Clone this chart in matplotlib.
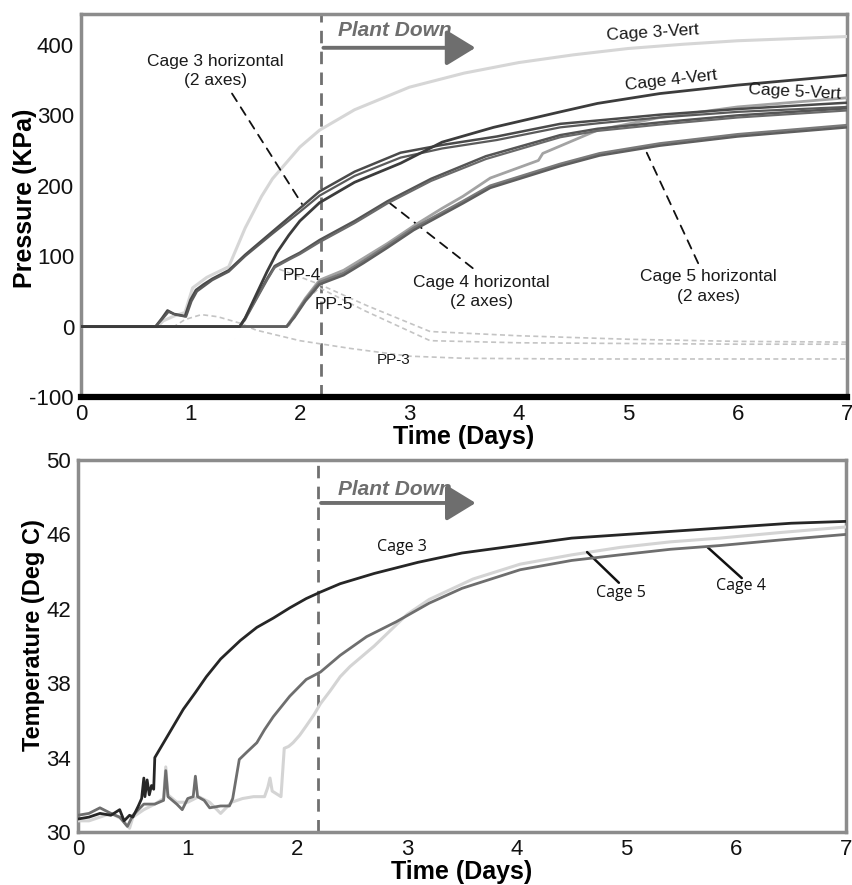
import matplotlib
matplotlib.use("Agg")
import matplotlib.pyplot as plt
from matplotlib.patches import FancyArrowPatch

plt.rcParams['font.family'] = ['Liberation Sans', 'DejaVu Sans']
plt.rcParams['axes.unicode_minus'] = False

# ---------------- Pressure data (days, kPa) ----------------
c3v_t = [0, 0.7, 0.75, 0.85, 0.95, 1.02, 1.15, 1.35, 1.5, 1.65, 1.75, 2.0, 2.18, 2.5, 3.0, 3.5, 4.0, 4.5, 5.0, 5.5, 6.0, 6.5, 7.0]
c3v_p = [0, 0, 8, 15, 20, 55, 70, 85, 140, 185, 210, 255, 279, 308, 340, 360, 375, 386, 395, 401, 406, 409, 412]

c3ha_t = [0, 0.68, 0.74, 0.79, 0.85, 0.95, 1.0, 1.05, 1.12, 1.2, 1.35, 1.5, 1.75, 2.0, 2.18, 2.5, 2.92, 3.3, 3.8, 4.38, 4.74, 5.29, 6.0, 7.0]
c3ha_p = [0, 0, 12, 23, 18, 15, 38, 52, 60, 68, 80, 102, 135, 168, 192, 220, 247, 258, 270, 288, 293, 301, 309, 318]
c3hb_t = [0, 0.68, 0.74, 0.8, 0.86, 0.96, 1.01, 1.06, 1.13, 1.2, 1.35, 1.5, 1.75, 2.0, 2.18, 2.5, 2.92, 3.3, 3.8, 4.38, 4.74, 5.29, 6.0, 7.0]
c3hb_p = [0, 0, 10, 21, 17, 14, 36, 50, 58, 66, 78, 100, 132, 163, 186, 214, 240, 253, 265, 283, 289, 297, 305, 312]

c4v_t = [0, 1.45, 1.5, 1.6, 1.7, 1.79, 1.9, 2.0, 2.18, 2.5, 2.92, 3.3, 3.77, 4.38, 4.72, 5.29, 6.0, 6.5, 7.0]
c4v_p = [0, 0, 12, 45, 78, 105, 130, 150, 176, 205, 232, 262, 283, 305, 317, 331, 343, 350, 357]

c4h_t = [0, 1.45, 1.5, 1.6, 1.7, 1.77, 1.9, 2.0, 2.18, 2.5, 2.8, 3.2, 3.7, 4.38, 4.72, 5.29, 6.0, 7.0]
c4ha_p = [0, 0, 12, 40, 68, 86, 97, 105, 123, 150, 178, 210, 242, 272, 281, 290, 300, 310]
c4hb_p = [0, 0, 10, 38, 66, 84, 95, 103, 120, 147, 175, 207, 238, 269, 278, 287, 297, 307]

c5h_t = [0, 1.88, 1.95, 2.05, 2.18, 2.4, 2.58, 2.8, 3.04, 3.49, 3.74, 4.38, 4.74, 5.29, 6.0, 7.0]
c5ha_p = [0, 0, 15, 38, 63, 76, 93, 115, 140, 178, 200, 231, 246, 260, 273, 286]
c5hb_p = [0, 0, 13, 36, 60, 73, 90, 112, 137, 175, 197, 228, 243, 257, 270, 283]

c5v_t = [0, 1.88, 1.95, 2.05, 2.18, 2.4, 2.58, 2.8, 3.04, 3.3, 3.49, 3.74, 4.18, 4.22, 4.72, 5.29, 6.0, 7.0]
c5v_p = [0, 0, 16, 40, 66, 80, 97, 118, 143, 168, 185, 211, 236, 246, 279, 297, 312, 325]

pp3_t = [0, 0.85, 0.95, 1.1, 1.25, 1.45, 1.6, 2.0, 2.46, 3.0, 3.5, 4.5, 5.5, 7.0]
pp3_p = [0, 0, 10, 17, 14, 5, -5, -20, -31, -42, -45, -46, -46, -46]
pp4_t = [0, 1.47, 1.6, 1.77, 2.18, 2.61, 3.19, 4.0, 5.0, 6.0, 7.0]
pp4_p = [0, 0, 40, 84, 60, 30, -7, -13, -18, -21, -22]
pp5_t = [0, 1.9, 2.0, 2.18, 2.6, 3.19, 4.0, 5.0, 6.0, 7.0]
pp5_p = [0, 0, 30, 55, 22, -20, -23, -24, -25, -25]

# ---------------- Temperature data (days, deg C) ----------------
t3_t = [0, 0.1, 0.2, 0.3, 0.38, 0.42, 0.47, 0.5, 0.55, 0.58, 0.6, 0.61, 0.63, 0.65, 0.67, 0.69,
        0.7, 0.8, 0.87, 0.96, 1.07, 1.17, 1.3, 1.48, 1.63, 1.78, 1.93, 2.08, 2.21, 2.39, 2.7, 3.1, 3.5, 4.0, 4.5, 5.0, 5.5, 6.0, 6.5, 7.0]
t3_v = [30.7, 30.8, 31.0, 30.9, 31.2, 30.6, 30.9, 30.8, 31.4, 31.8, 32.9, 31.9, 32.8, 32.0, 32.5, 32.3,
        34.0, 35.0, 35.7, 36.6, 37.5, 38.35, 39.3, 40.3, 41.0, 41.5, 42.05, 42.55, 42.9, 43.35, 43.9, 44.5, 45.0, 45.4, 45.8, 46.0, 46.2, 46.4, 46.6, 46.7]

t4_t = [0, 0.1, 0.2, 0.3, 0.38, 0.45, 0.5, 0.6, 0.7, 0.78, 0.8, 0.82, 0.9, 0.95, 1.0, 1.05, 1.07, 1.09, 1.15, 1.2, 1.3, 1.38,
        1.41, 1.47, 1.54, 1.63, 1.7, 1.78, 1.93, 2.08, 2.21, 2.39, 2.63, 2.9, 3.2, 3.5, 4.03, 4.5, 4.94, 5.4, 5.85, 6.4, 7.0]
t4_v = [30.9, 31.0, 31.3, 31.0, 30.8, 30.3, 30.9, 31.5, 31.5, 31.7, 33.3, 31.9, 31.5, 31.2, 31.8, 31.9, 33.0, 31.9, 31.7, 31.3, 31.4, 31.4,
        31.8, 33.9, 34.3, 34.8, 35.5, 36.2, 37.3, 38.2, 38.6, 39.5, 40.5, 41.3, 42.3, 43.1, 44.1, 44.6, 44.9, 45.2, 45.4, 45.7, 46.0]

t5_t = [0, 0.1, 0.2, 0.3, 0.4, 0.47, 0.5, 0.6, 0.7, 0.78, 0.8, 0.82, 0.9, 1.0, 1.1, 1.2, 1.3, 1.4, 1.5, 1.6, 1.7, 1.73, 1.75, 1.77, 1.85,
        1.88, 1.92, 1.96, 2.02, 2.08, 2.15, 2.21, 2.3, 2.39, 2.48, 2.7, 3.0, 3.2, 3.6, 4.03, 4.5, 4.94, 5.4, 5.85, 6.4, 7.0]
t5_v = [30.6, 30.6, 30.8, 31.0, 30.7, 30.2, 30.8, 31.2, 31.5, 31.8, 33.5, 32.0, 31.6, 31.6, 31.9, 31.6, 31.0, 31.6, 31.8, 31.9, 31.9, 32.4, 32.9, 32.2, 31.9,
        34.5, 34.6, 34.8, 35.2, 35.7, 36.3, 36.9, 37.6, 38.35, 38.9, 40.0, 41.7, 42.5, 43.6, 44.4, 44.9, 45.3, 45.6, 45.8, 46.1, 46.4]

x_ticks = [0, 1, 2, 3, 4, 5, 6, 7]
p_ticks = [-100, 0, 100, 200, 300, 400]
t_ticks = [30, 34, 38, 42, 46, 50]
plant_down_day = 2.19

W, H = 852, 885
fig = plt.figure(figsize=(W / 100, H / 100), dpi=100)

def rect(l, t, r, b):
    return [l / W, 1 - b / H, (r - l) / W, (b - t) / H]

ax1 = fig.add_axes(rect(81, 14, 847, 397))
ax2 = fig.add_axes(rect(78, 460, 846, 832))

frame_col = '#8c8c8c'
for ax in (ax1, ax2):
    for s in ax.spines.values():
        s.set_color(frame_col)
        s.set_linewidth(2.5)
    ax.tick_params(length=0, labelsize=16, pad=5, colors='#111111')
    ax.set_xlim(0, 7)
    ax.set_xticks(x_ticks)
    ax.axvline(plant_down_day, color='#707070', lw=2, ls=(0, (4.5, 3)), zorder=1)

ax1.spines['bottom'].set_color('black')
ax1.spines['bottom'].set_linewidth(4.5)

# ---------------- Top panel ----------------
ax1.set_ylim(-100, 444)
ax1.set_yticks(p_ticks)

dash = (0, (3, 2))
ax1.plot(pp3_t, pp3_p, color='#c4c4c4', lw=1.2, ls=dash, zorder=2)
ax1.plot(pp4_t, pp4_p, color='#c4c4c4', lw=1.2, ls=dash, zorder=2)
ax1.plot(pp5_t, pp5_p, color='#c4c4c4', lw=1.2, ls=dash, zorder=2)

ax1.plot(c3v_t, c3v_p, color='#d6d6d6', lw=2.2, zorder=3)
ax1.plot(c5v_t, c5v_p, color='#a3a3a3', lw=2.0, zorder=4)
ax1.plot(c5h_t, c5ha_p, color='#7a7a7a', lw=2.0, zorder=4)
ax1.plot(c5h_t, c5hb_p, color='#5e5e5e', lw=1.8, zorder=4)
ax1.plot(c4h_t, c4ha_p, color='#555555', lw=1.8, zorder=5)
ax1.plot(c4h_t, c4hb_p, color='#6a6a6a', lw=1.6, zorder=5)
ax1.plot(c3ha_t, c3ha_p, color='#4a4a4a', lw=1.8, zorder=5)
ax1.plot(c3hb_t, c3hb_p, color='#5a5a5a', lw=1.6, zorder=5)
ax1.plot(c4v_t, c4v_p, color='#3c3c3c', lw=2.0, zorder=6)

txt = dict(fontsize=12.5, color='#1a1a1a', ha='center', va='center', zorder=8)
ax1.text(1.23, 363, 'Cage 3 horizontal\n(2 axes)', linespacing=1.35, **txt)
ax1.text(3.66, 49, 'Cage 4 horizontal\n(2 axes)', linespacing=1.35, **txt)
ax1.text(5.73, 57, 'Cage 5 horizontal\n(2 axes)', linespacing=1.35, **txt)
ax1.text(5.22, 418, 'Cage 3-Vert', rotation=3.5, **txt)
ax1.text(5.39, 350, 'Cage 4-Vert', rotation=6.5, **txt)
ax1.text(6.52, 333, 'Cage 5-Vert', rotation=-3, **txt)
ax1.text(2.02, 73, 'PP-4', **txt)
ax1.text(2.31, 31, 'PP-5', **txt)
ax1.text(2.86, -48, 'PP-3', fontsize=11, color='#1a1a1a', ha='center', va='center', zorder=8)

lead = dict(arrowstyle='-', color='#111111', lw=1.3, linestyle=(0, (5, 4)), shrinkA=0, shrinkB=0)
ax1.annotate('', xy=(2.02, 174), xytext=(1.38, 331), arrowprops=lead)
ax1.annotate('', xy=(2.80, 178), xytext=(3.58, 83), arrowprops=lead)
ax1.annotate('', xy=(5.17, 247), xytext=(5.64, 90), arrowprops=lead)

arrow_col = '#6e6e6e'
ax1.add_patch(FancyArrowPatch((plant_down_day, 396), (3.63, 396), arrowstyle='-|>,head_length=0.9,head_width=0.55',
                              mutation_scale=20, lw=2.8, color=arrow_col, zorder=7))
ax1.text(2.35, 420, 'Plant Down', fontsize=15, fontweight='bold', fontstyle='italic', color=arrow_col,
         ha='left', va='center', zorder=8)

ax1.set_xlabel('Time (Days)', fontsize=18, fontweight='bold', labelpad=0)
ax1.set_ylabel('Pressure (KPa)', fontsize=18, fontweight='bold')
ax1.yaxis.set_label_coords(-0.058, 0.52)

# ---------------- Bottom panel ----------------
ax2.set_ylim(30, 50)
ax2.set_yticks(t_ticks)

ax2.plot(t5_t, t5_v, color='#d4d4d4', lw=2.2, zorder=3)
ax2.plot(t4_t, t4_v, color='#6e6e6e', lw=2.0, zorder=4)
ax2.plot(t3_t, t3_v, color='#262626', lw=2.0, zorder=5)

txt2 = dict(fontsize=11.5, color='#111111', ha='center', va='center', family=['Open Sans', 'DejaVu Sans'], zorder=8)
ax2.text(2.95, 45.3, 'Cage 3', **txt2)
ax2.text(4.95, 42.85, 'Cage 5', **txt2)
ax2.text(6.04, 43.2, 'Cage 4', **txt2)
solid = dict(arrowstyle='-', color='#111111', lw=1.8, shrinkA=0, shrinkB=0)
ax2.annotate('', xy=(4.64, 45.05), xytext=(4.93, 43.4), arrowprops=solid)
ax2.annotate('', xy=(5.74, 45.3), xytext=(6.05, 43.65), arrowprops=solid)

ax2.add_patch(FancyArrowPatch((plant_down_day, 47.69), (3.65, 47.69), arrowstyle='-|>,head_length=0.9,head_width=0.55',
                              mutation_scale=20, lw=2.8, color=arrow_col, zorder=7))
ax2.text(2.37, 48.39, 'Plant Down', fontsize=15, fontweight='bold', fontstyle='italic', color=arrow_col,
         ha='left', va='center', zorder=8)

ax2.set_xlabel('Time (Days)', fontsize=18, fontweight='bold', labelpad=0)
ax2.set_ylabel('Temperature (Deg C)', fontsize=17, fontweight='bold')
ax2.yaxis.set_label_coords(-0.043, 0.53)

fig.savefig('out.png', dpi=100)
